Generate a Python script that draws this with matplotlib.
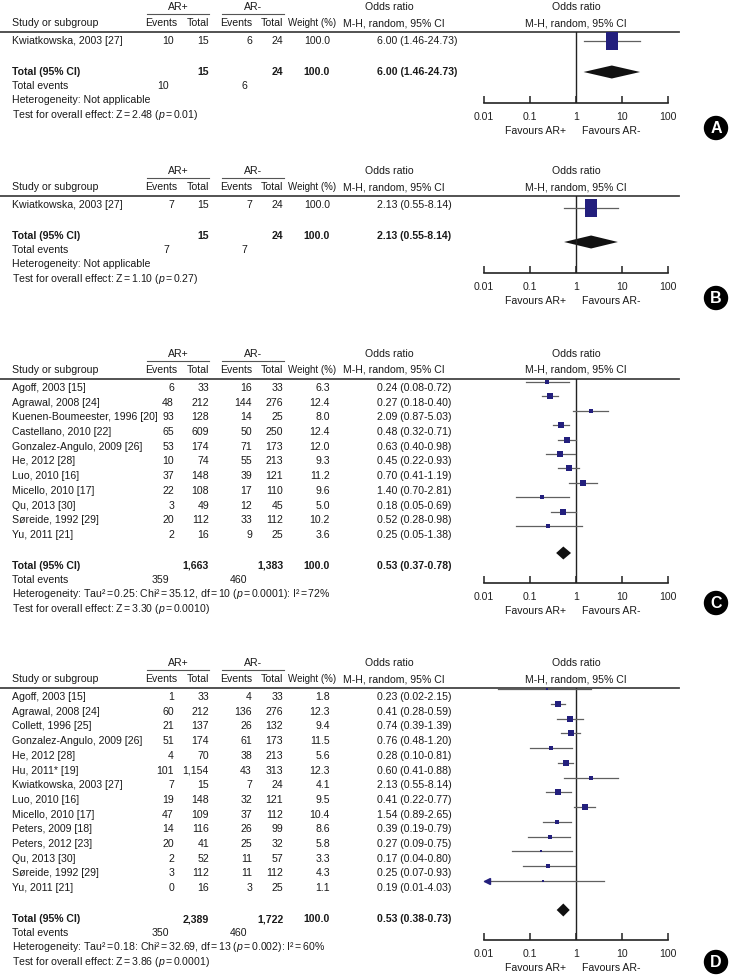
import numpy as np
import matplotlib.pyplot as plt
from matplotlib import font_manager
from matplotlib.patches import Circle
from matplotlib.path import Path
from matplotlib.ticker import NullLocator

W, H = 732, 976

installed = {f.name for f in font_manager.fontManager.ttflist}
if 'Liberation Sans Narrow' in installed:
    FONT, FS = 'Liberation Sans Narrow', 9.0
else:
    FONT, FS = 'Liberation Sans', 7.6
plt.rcParams['font.family'] = [FONT, 'DejaVu Sans']
plt.rcParams['mathtext.fontset'] = 'custom'
plt.rcParams['mathtext.rm'] = FONT
plt.rcParams['mathtext.it'] = FONT + ':italic'

# thin spaced "=" for the statistics lines
EQ = '$\\,$=$\\,$'

# ---------------- data ----------------
# panel A
a_study = ['Kwiatkowska, 2003 [27]']
a_events_pos = [10]
a_total_pos = [15]
a_events_neg = [6]
a_total_neg = [24]
a_weight = [100.0]
a_or = [6.00]
a_lo = [1.46]
a_hi = [24.73]
a_pooled = [6.00, 1.46, 24.73]
a_totals = [15, 24]
a_total_events = [10, 6]
a_het = 'Heterogeneity: Not applicable'
a_test = f'Test for overall effect: Z{EQ}2.48 ($\\it{{p}}$' + f'{EQ}0.01)'

# panel B
b_study = ['Kwiatkowska, 2003 [27]']
b_events_pos = [7]
b_total_pos = [15]
b_events_neg = [7]
b_total_neg = [24]
b_weight = [100.0]
b_or = [2.13]
b_lo = [0.55]
b_hi = [8.14]
b_pooled = [2.13, 0.55, 8.14]
b_totals = [15, 24]
b_total_events = [7, 7]
b_het = 'Heterogeneity: Not applicable'
b_test = f'Test for overall effect: Z{EQ}1.10 ($\\it{{p}}$' + f'{EQ}0.27)'

# panel C
c_study = ['Agoff, 2003 [15]', 'Agrawal, 2008 [24]', 'Kuenen-Boumeester, 1996 [20]',
           'Castellano, 2010 [22]', 'Gonzalez-Angulo, 2009 [26]', 'He, 2012 [28]',
           'Luo, 2010 [16]', 'Micello, 2010 [17]', 'Qu, 2013 [30]',
           'Søreide, 1992 [29]', 'Yu, 2011 [21]']
c_events_pos = [6, 48, 93, 65, 53, 10, 37, 22, 3, 20, 2]
c_total_pos = [33, 212, 128, 609, 174, 74, 148, 108, 49, 112, 16]
c_events_neg = [16, 144, 14, 50, 71, 55, 39, 17, 12, 33, 9]
c_total_neg = [33, 276, 25, 250, 173, 213, 121, 110, 45, 112, 25]
c_weight = [6.3, 12.4, 8.0, 12.4, 12.0, 9.3, 11.2, 9.6, 5.0, 10.2, 3.6]
c_or = [0.24, 0.27, 2.09, 0.48, 0.63, 0.45, 0.70, 1.40, 0.18, 0.52, 0.25]
c_lo = [0.08, 0.18, 0.87, 0.32, 0.40, 0.22, 0.41, 0.70, 0.05, 0.28, 0.05]
c_hi = [0.72, 0.40, 5.03, 0.71, 0.98, 0.93, 1.19, 2.81, 0.69, 0.98, 1.38]
c_pooled = [0.53, 0.37, 0.78]
c_totals = [1663, 1383]
c_total_events = [359, 460]
c_het = (f'Heterogeneity: Tau\u00b2{EQ}0.25: Chi\u00b2{EQ}35.12, df{EQ}10 '
         f'($\\it{{p}}${EQ}0.0001): I\u00b2{EQ}72%')
c_test = f'Test for overall effect: Z{EQ}3.30 ($\\it{{p}}$' + f'{EQ}0.0010)'

# panel D
d_study = ['Agoff, 2003 [15]', 'Agrawal, 2008 [24]', 'Collett, 1996 [25]',
           'Gonzalez-Angulo, 2009 [26]', 'He, 2012 [28]', 'Hu, 2011* [19]',
           'Kwiatkowska, 2003 [27]', 'Luo, 2010 [16]', 'Micello, 2010 [17]',
           'Peters, 2009 [18]', 'Peters, 2012 [23]', 'Qu, 2013 [30]',
           'Søreide, 1992 [29]', 'Yu, 2011 [21]']
d_events_pos = [1, 60, 21, 51, 4, 101, 7, 19, 47, 14, 20, 2, 3, 0]
d_total_pos = [33, 212, 137, 174, 70, 1154, 15, 148, 109, 116, 41, 52, 112, 16]
d_events_neg = [4, 136, 26, 61, 38, 43, 7, 32, 37, 26, 25, 11, 11, 3]
d_total_neg = [33, 276, 132, 173, 213, 313, 24, 121, 112, 99, 32, 57, 112, 25]
d_weight = [1.8, 12.3, 9.4, 11.5, 5.6, 12.3, 4.1, 9.5, 10.4, 8.6, 5.8, 3.3, 4.3, 1.1]
d_or = [0.23, 0.41, 0.74, 0.76, 0.28, 0.60, 2.13, 0.41, 1.54, 0.39, 0.27, 0.17, 0.25, 0.19]
d_lo = [0.02, 0.28, 0.39, 0.48, 0.10, 0.41, 0.55, 0.22, 0.89, 0.19, 0.09, 0.04, 0.07, 0.01]
d_hi = [2.15, 0.59, 1.39, 1.20, 0.81, 0.88, 8.14, 0.77, 2.65, 0.79, 0.75, 0.80, 0.93, 4.03]
d_pooled = [0.53, 0.38, 0.73]
d_totals = [2389, 1722]
d_total_events = [350, 460]
d_het = (f'Heterogeneity: Tau\u00b2{EQ}0.18: Chi\u00b2{EQ}32.69, df{EQ}13 '
         f'($\\it{{p}}${EQ}0.002): I\u00b2{EQ}60%')
d_test = f'Test for overall effect: Z{EQ}3.86 ($\\it{{p}}$' + f'{EQ}0.0001)'

xticks = [0.01, 0.1, 1, 10, 100]
xtick_labels = ['0.01', '0.1', '1', '10', '100']

# ---------------- layout (pixels from top) ----------------
panels = [
    dict(tag='A', study=a_study, ep=a_events_pos, tp=a_total_pos, en=a_events_neg,
         tn=a_total_neg, w=a_weight, orr=a_or, lo=a_lo, hi=a_hi, pooled=a_pooled,
         totals=a_totals, tev=a_total_events, het=a_het, test=a_test,
         first=41, f_first=41, f_step=14.7, dia=72, axis=103, circ=128,
         box_w=1.2, box_h=1.75),
    dict(tag='B', study=b_study, ep=b_events_pos, tp=b_total_pos, en=b_events_neg,
         tn=b_total_neg, w=b_weight, orr=b_or, lo=b_lo, hi=b_hi, pooled=b_pooled,
         totals=b_totals, tev=b_total_events, het=b_het, test=b_test,
         first=205, f_first=208, f_step=14.7, dia=242, axis=273, circ=298,
         box_w=1.2, box_h=1.75),
    dict(tag='C', study=c_study, ep=c_events_pos, tp=c_total_pos, en=c_events_neg,
         tn=c_total_neg, w=c_weight, orr=c_or, lo=c_lo, hi=c_hi, pooled=c_pooled,
         totals=c_totals, tev=c_total_events, het=c_het, test=c_test,
         first=388, f_first=382, f_step=14.4, dia=553, axis=583, circ=603,
         box_w=1.65, box_h=1.65),
    dict(tag='D', study=d_study, ep=d_events_pos, tp=d_total_pos, en=d_events_neg,
         tn=d_total_neg, w=d_weight, orr=d_or, lo=d_lo, hi=d_hi, pooled=d_pooled,
         totals=d_totals, tev=d_total_events, het=d_het, test=d_test,
         first=697, f_first=689, f_step=14.77, dia=910, axis=940, circ=962,
         box_w=1.65, box_h=1.65),
]

STEP = 14.7
X_STUDY, X_EP, X_TP, X_EN, X_TN, X_W, X_OR = 12, 174, 209, 252, 283, 330, 377
F_LEFT, F_RIGHT = 484, 668
TXT = '#1a1a1a'
BOX = '#231f7d'
CI = '#606060'

fig = plt.figure(figsize=(W / 100, H / 100), dpi=100)
page = fig.add_axes([0, 0, 1, 1])
page.set_xlim(0, W)
page.set_ylim(H, 0)
page.axis('off')


def put(x, y, s, ha='left', bold=False, size=FS):
    page.text(x, y, s, ha=ha, va='center', fontsize=size, color=TXT,
              fontweight='bold' if bold else 'normal')


def box_marker(aw, ah):
    return Path([(-aw / 2, -ah / 2), (aw / 2, -ah / 2), (aw / 2, ah / 2),
                 (-aw / 2, ah / 2), (-aw / 2, -ah / 2)],
                [Path.MOVETO, Path.LINETO, Path.LINETO, Path.LINETO, Path.CLOSEPOLY])


for p in panels:
    top = p['first']
    n = len(p['study'])
    rows = [top + i * STEP for i in range(n)]
    ytot = rows[-1] + 31
    line_y = top - 9

    # header
    put(178, top - 34, 'AR+', ha='center')
    put(253, top - 34, 'AR-', ha='center')
    put(389, top - 34, 'Odds ratio', ha='center')
    put(576, top - 34, 'Odds ratio', ha='center')
    page.plot([147, 209], [top - 27, top - 27], color='#555555', lw=0.8)
    page.plot([222, 284], [top - 27, top - 27], color='#555555', lw=0.8)
    hy = top - 18
    put(X_STUDY, hy, 'Study or subgroup')
    put(177, hy, 'Events', ha='right')
    put(X_TP, hy, 'Total', ha='right')
    put(X_EN, hy, 'Events', ha='right')
    put(X_TN, hy, 'Total', ha='right')
    put(336, hy, 'Weight (%)', ha='right', size=FS - 0.6)
    put(394, hy, 'M-H, random, 95% CI', ha='center')
    put(576, hy, 'M-H, random, 95% CI', ha='center')
    page.plot([0, 679], [line_y, line_y], color='#444444', lw=1.3)

    # study rows
    for i, y in enumerate(rows):
        put(X_STUDY, y, p['study'][i])
        put(X_EP, y, f"{p['ep'][i]:,}", ha='right')
        put(X_TP, y, f"{p['tp'][i]:,}", ha='right')
        put(X_EN, y, f"{p['en'][i]:,}", ha='right')
        put(X_TN, y, f"{p['tn'][i]:,}", ha='right')
        put(X_W, y, f"{p['w'][i]:.1f}", ha='right')
        put(X_OR, y, f"{p['orr'][i]:.2f} ({p['lo'][i]:.2f}-{p['hi'][i]:.2f})")

    # totals
    est, plo, phi = p['pooled']
    put(X_STUDY, ytot, 'Total (95% CI)', bold=True)
    put(X_TP, ytot, f"{p['totals'][0]:,}", ha='right', bold=True)
    put(X_TN, ytot, f"{p['totals'][1]:,}", ha='right', bold=True)
    put(X_W, ytot, f"{sum(p['w']):.1f}", ha='right', bold=True)
    put(X_OR, ytot, f"{est:.2f} ({plo:.2f}-{phi:.2f})", bold=True)
    put(X_STUDY, ytot + 14, 'Total events')
    put(X_EP - 5, ytot + 14, f"{p['tev'][0]:,}", ha='right')
    put(X_EN - 5, ytot + 14, f"{p['tev'][1]:,}", ha='right')
    put(X_STUDY, ytot + 28, p['het'])
    put(X_STUDY, ytot + 43, p['test'])

    # forest plot axes, y in page pixels
    ax = fig.add_axes([F_LEFT / W, 1 - p['axis'] / H, (F_RIGHT - F_LEFT) / W,
                       (p['axis'] - line_y) / H])
    ax.patch.set_alpha(0)
    ax.set_xscale('log')
    ax.set_xlim(0.01, 100)
    ax.set_ylim(p['axis'], line_y)
    for s in ['top', 'left', 'right']:
        ax.spines[s].set_visible(False)
    ax.spines['bottom'].set_color('#222222')
    ax.spines['bottom'].set_linewidth(1.2)
    ax.set_xticks(xticks)
    ax.set_xticklabels(xtick_labels)
    ax.xaxis.set_minor_locator(NullLocator())
    ax.set_yticks([])
    ax.tick_params(axis='x', direction='in', length=5, width=1.1, pad=6.5,
                   labelsize=FS, colors='#222222')
    ax.axvline(1, color='#222222', lw=1.0)

    for i in range(n):
        y = p['f_first'] + i * p['f_step']
        lo = max(p['lo'][i], 0.01)
        ax.plot([lo, p['hi'][i]], [y, y], color=CI, lw=0.9, clip_on=False)
        if p['lo'][i] <= 0.01:
            ax.plot([0.0115], [y], marker='<', ms=4, color=BOX, clip_on=False)
        side_w = p['box_w'] * np.sqrt(p['w'][i]) * 0.72
        side_h = p['box_h'] * np.sqrt(p['w'][i]) * 0.72
        ax.plot([p['orr'][i]], [y], marker=box_marker(side_w, side_h),
                ms=max(side_w, side_h), color=BOX, mec=BOX, mew=0, clip_on=False)

    dy = 6.5
    ax.fill([plo, est, phi, est], [p['dia'], p['dia'] - dy, p['dia'], p['dia'] + dy],
            color='#111111', lw=0, clip_on=False)

    ax.annotate('Favours AR+', xy=(1, 0), xycoords=('data', 'axes fraction'),
                xytext=(-7, -20), textcoords='offset points', ha='right',
                va='center', fontsize=FS, color=TXT)
    ax.annotate('Favours AR-', xy=(1, 0), xycoords=('data', 'axes fraction'),
                xytext=(4, -20), textcoords='offset points', ha='left',
                va='center', fontsize=FS, color=TXT)

    # panel letter
    page.add_patch(Circle((716, p['circ']), 11.5, color='black', zorder=5))
    page.text(716, p['circ'] + 0.5, p['tag'], ha='center', va='center', color='white',
              fontsize=11.5, fontweight='bold', family='Liberation Sans', zorder=6)

fig.savefig('out.png', dpi=100)
